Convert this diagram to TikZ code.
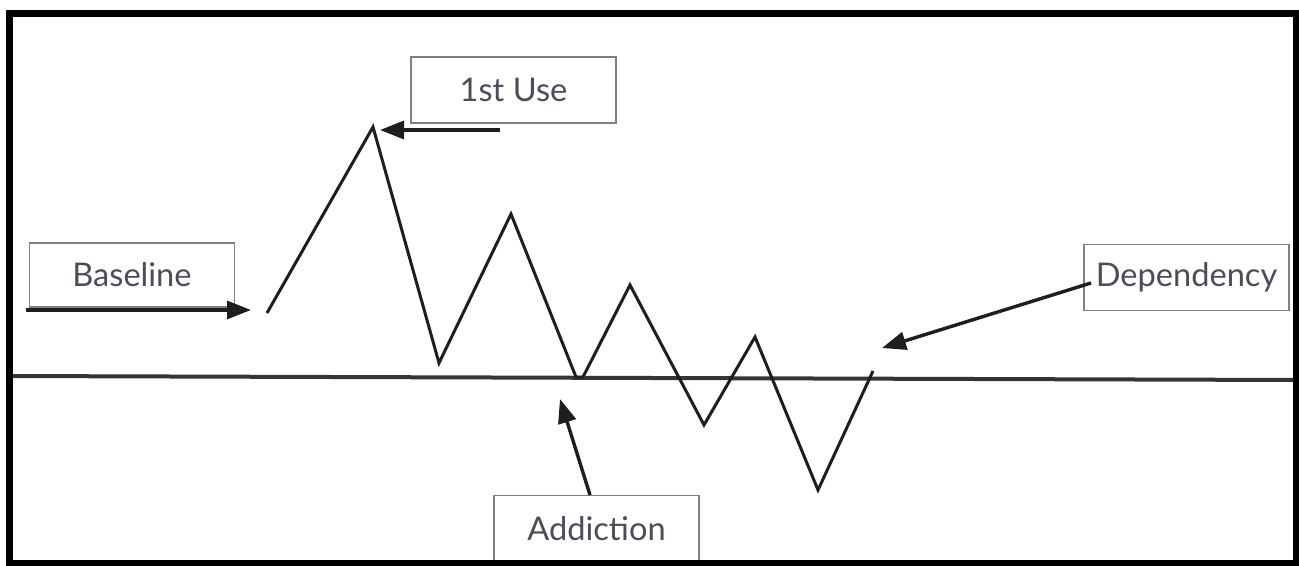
\documentclass[tikz,border=0pt]{standalone}
\usepackage{fontspec}
\setmainfont{Lato}
\usetikzlibrary{arrows.meta}
\definecolor{boxgray}{RGB}{128,128,128}
\definecolor{labeltext}{RGB}{74,78,88}
\definecolor{ink}{RGB}{30,30,30}
\begin{document}
\begin{tikzpicture}[x=0.5pt,y=-0.5pt,
  labelbox/.style={draw=boxgray, line width=0.8pt, fill=white,
    minimum width=102.5pt, minimum height=33pt, inner sep=0pt,
    text=labeltext, font=\fontsize{16.3}{18}\selectfont},
  pointer/.style={draw=ink, line width=1.7pt,
    -{Triangle[length=12pt,width=9pt]}},
  trace/.style={draw=ink, line width=1.5pt, line join=miter},
  level/.style={draw=ink!90, line width=2pt},
  frame/.style={draw=black, line width=3.5pt}]

\fill[white] (0,0) rectangle (1299,566);
\useasboundingbox (0,0) rectangle (1299,566);

% reference level
\draw[level] (9,376) -- (1296,380);

% zigzag course
\coordinate (z0) at (267,313);
\coordinate (z1) at (373,127);
\coordinate (z2) at (439,363);
\coordinate (z3) at (511,214);
\coordinate (z4) at (576,377);
\coordinate (z5) at (583,377);
\coordinate (z6) at (630,285);
\coordinate (z7) at (704,425);
\coordinate (z8) at (755,337);
\coordinate (z9) at (818,490);
\coordinate (z10) at (873,371);
\draw[trace] (z0) -- (z1) -- (z2) -- (z3) -- (z4) -- (z5) -- (z6) -- (z7)
  -- (z8) -- (z9) -- (z10);

% labels
\node[labelbox] (first) at (513.5,90) {1st Use};
\node[labelbox, minimum height=32pt] (base) at (132,275) {Baseline};
\node[labelbox] (dep) at (1186.5,277.5) {Dependency};
\node[labelbox] (add) at (596.5,528.5) {Addiction};

% pointers
\coordinate (firstTail) at (500,130);
\coordinate (firstTip) at (380,130);
\coordinate (baseTail) at (26,310);
\coordinate (baseTip) at (251,310);
\coordinate (depTail) at (1091,283);
\coordinate (depTip) at (882,348);
\coordinate (addTail) at (590,495);
\coordinate (addTip) at (560,399);
\draw[pointer] (firstTail) -- (firstTip);
\draw[pointer] (baseTail) -- (baseTip);
\draw[pointer] (depTail) -- (depTip);
\draw[pointer] (addTail) -- (addTip);

% outer frame
\draw[frame] (9,14) rectangle (1296,563);
\end{tikzpicture}
\end{document}
